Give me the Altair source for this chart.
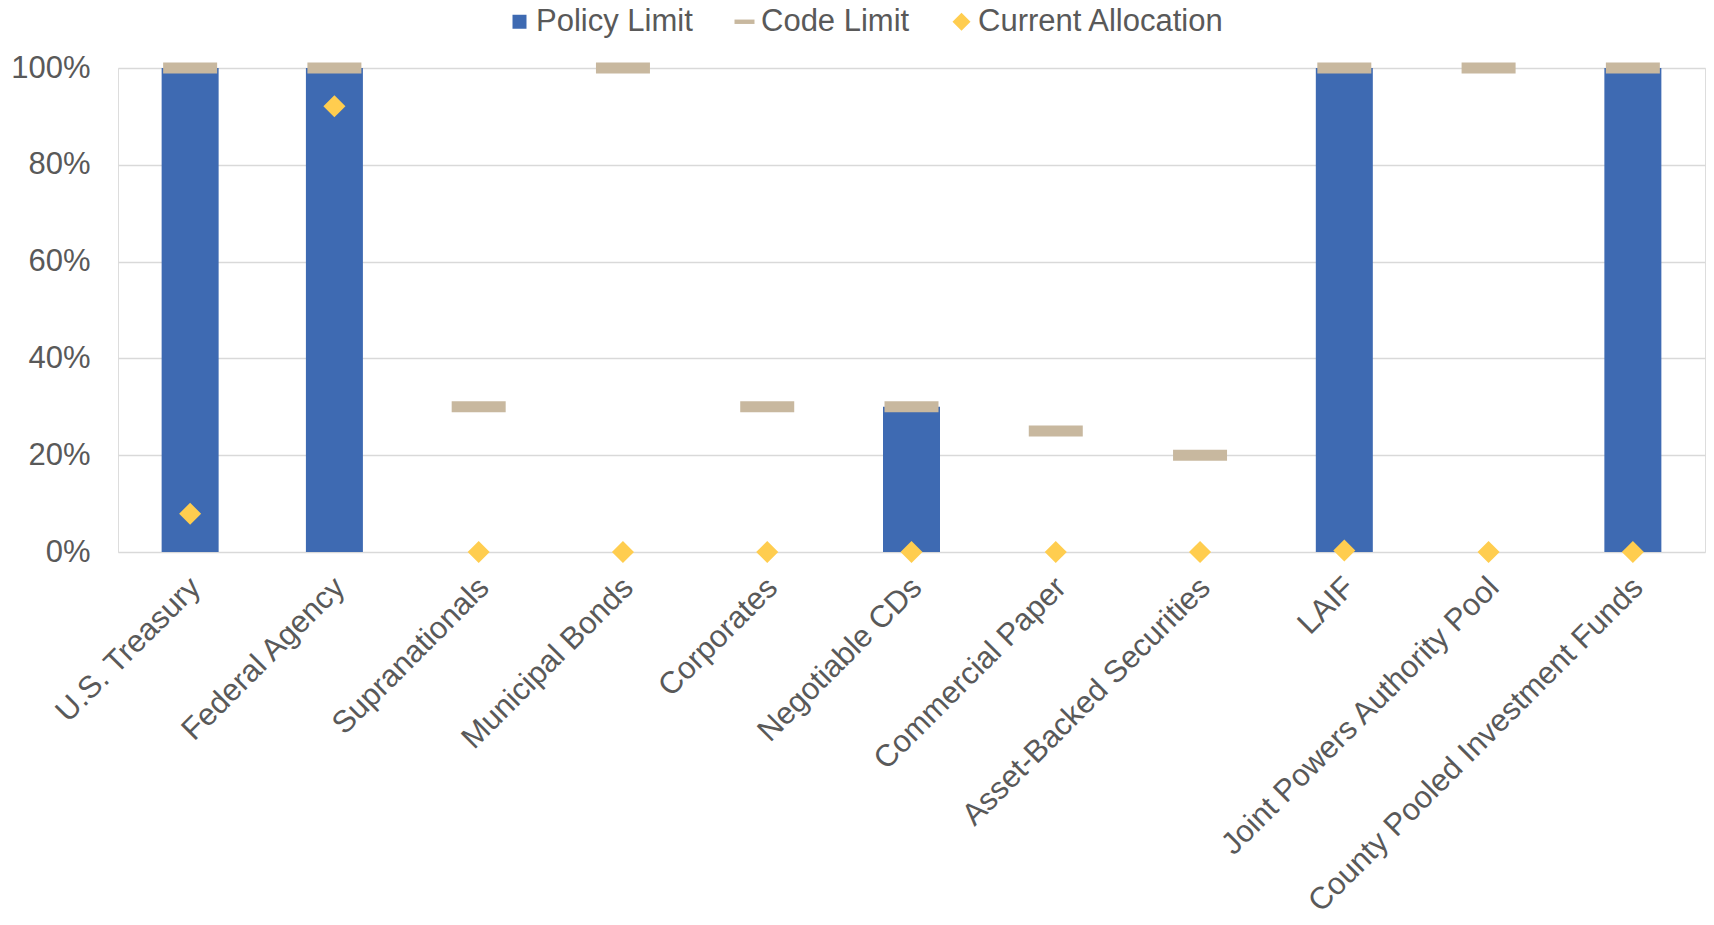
import altair as alt
import pandas as pd

categories = [
    "U.S. Treasury", "Federal Agency", "Supranationals", "Municipal Bonds",
    "Corporates", "Negotiable CDs", "Commercial Paper", "Asset-Backed Securities",
    "LAIF", "Joint Powers Authority Pool", "County Pooled Investment Funds",
]
policy_limit = [1.00, 1.00, None, None, None, 0.30, None, None, 1.00, None, 1.00]
code_limit = [1.00, 1.00, 0.30, 1.00, 0.30, 0.30, 0.25, 0.20, 1.00, 1.00, 1.00]
current_allocation = [0.079, 0.921, 0.0, 0.0, 0.0, 0.0, 0.0, 0.0, 0.003, 0.0, 0.0]

series_names = ["Policy Limit", "Code Limit", "Current Allocation"]
series_colors = ["#3E6AB2", "#C8B89F", "#FFCD4F"]
series_shapes = ["M-0.7,-0.7H0.7V0.7H-0.7Z", "M-1,-0.22H1V0.22H-1Z", "M-0.9,0L0,-0.9L0.9,0L0,0.9Z"]

rows = []
for name, vals in zip(series_names, [policy_limit, code_limit, current_allocation]):
    for c, v in zip(categories, vals):
        if v is not None:
            rows.append({"Category": c, "Series": name, "Value": v})
df = pd.DataFrame(rows)

FONT = "Liberation Sans"
GREY = "#595959"

x_enc = alt.X(
    "Category:N", sort=categories, title=None,
    scale=alt.Scale(paddingInner=0, paddingOuter=0),
    axis=alt.Axis(labelAngle=-45, labelFontSize=31, labelColor=GREY, labelFont=FONT,
                  domain=False, ticks=False, labelPadding=20, labelOffset=-5, labelLimit=0,
                  labelOverlap=False),
)
y_enc = alt.Y(
    "Value:Q", title=None,
    scale=alt.Scale(domain=[0, 1], nice=False),
    axis=alt.Axis(values=[0, 0.2, 0.4, 0.6, 0.8, 1.0], format=".0%", labelFontSize=31,
                  labelColor=GREY, labelFont=FONT, domain=False, ticks=False,
                  labelPadding=28, gridColor="#D9D9D9", gridWidth=1.5),
)
legend = alt.Legend(title=None, orient="none", direction="horizontal",
                    legendX=386, legendY=-62, labelFontSize=31, labelColor=GREY,
                    labelFont=FONT, symbolSize=400, columnPadding=36, labelLimit=0,
                    labelOffset=1, symbolOpacity=1, symbolStrokeWidth=0)
color_enc = alt.Color(
    "Series:N",
    scale=alt.Scale(domain=series_names, range=series_colors),
    legend=legend,
)
shape_enc = alt.Shape(
    "Series:N",
    scale=alt.Scale(domain=series_names, range=series_shapes),
    legend=legend,
)

base = alt.Chart(df)

bars = base.transform_filter(alt.datum.Series == "Policy Limit").mark_bar(size=57).encode(
    x=x_enc, y=y_enc, color=color_enc
)
ticks = base.transform_filter(alt.datum.Series == "Code Limit").mark_tick(
    thickness=11, size=54, opacity=1
).encode(x=x_enc, y=y_enc, color=color_enc)
points = base.transform_filter(alt.datum.Series == "Current Allocation").mark_point(
    filled=True, size=600, opacity=1
).encode(x=x_enc, y=y_enc, color=color_enc, shape=shape_enc)

chart = alt.layer(bars, ticks, points).properties(
    width=1587, height=484,
    autosize=alt.AutoSizeParams(type="none"),
    padding={"left": 118, "top": 68, "right": 9, "bottom": 373},
).configure_view(stroke=None).configure(background="white")

chart.save("out.html", embed_options={"renderer": "svg", "actions": False})
